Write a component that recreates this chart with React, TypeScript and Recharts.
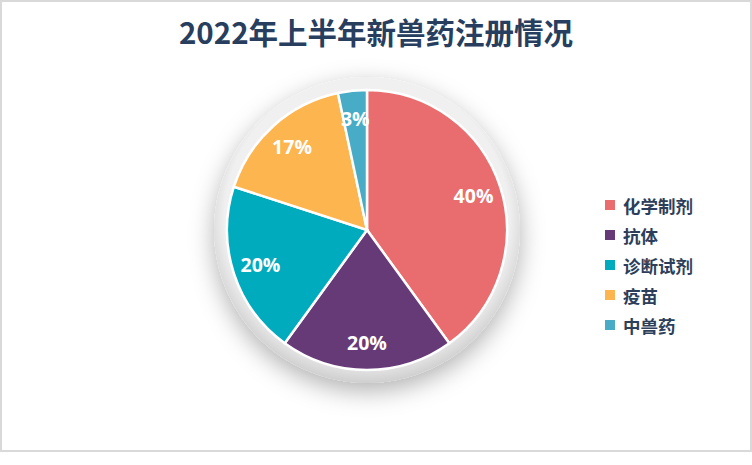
import { PieChart, Pie, Cell, Legend } from 'recharts';

const categories = ['化学制剂', '抗体', '诊断试剂', '疫苗', '中兽药'];
const counts = [12, 6, 6, 5, 1];
const colors = ['#E96C6E', '#663A77', '#00ABBD', '#FDB54F', '#49ACC6'];

const data = categories.map((name, i) => ({ name, value: counts[i] }));
const total = counts.reduce((a, b) => a + b, 0);

const RAD = Math.PI / 180;

const renderLabel = (p: any) => {
    const r = 112;
    const x = p.cx + r * Math.cos(-p.midAngle * RAD);
    const y = p.cy + r * Math.sin(-p.midAngle * RAD);
    return (
        <text x={x} y={y} fill='#fff' textAnchor='middle' dominantBaseline='central'
            fontSize={19.5} fontWeight='bold' fontFamily='"Open Sans", "Noto Sans CJK SC"'>
            {Math.round((p.value / total) * 100)}%
        </text>
    );
};

const renderLegend = (props: any) => {
    const items = categories
        .map((c) => props.payload.find((e: any) => e.value === c))
        .filter(Boolean);
    return (
        <ul style={{ listStyle: 'none', margin: 0, padding: 0 }}>
            {items.map((e: any) => (
                <li key={e.value} style={{ display: 'flex', alignItems: 'center', height: 30 }}>
                    <span style={{ width: 10, height: 10, background: e.color, marginRight: 8, display: 'inline-block' }} />
                    <span style={{ color: '#2C3E5A', fontSize: 17.5, fontWeight: 'bold' }}>{e.value}</span>
                </li>
            ))}
        </ul>
    );
};

export default function App() {
    return (
        <div style={{
            position: 'absolute', left: 0, top: 0, width: 752, height: 452, boxSizing: 'border-box',
            border: '2px solid #d9d9d9', background: '#fff', fontFamily: '"Noto Sans CJK SC", "Noto Sans", sans-serif'
        }}>
            <div style={{
                position: 'absolute', left: 0, width: 748, top: 8, textAlign: 'center',
                fontSize: 29.5, fontWeight: 'bold', color: '#283E5E'
            }}>2022年上半年新兽药注册情况</div>
            <PieChart width={748} height={448}>
                <defs>
                    <filter id='ringShadow' x='-30%' y='-30%' width='160%' height='160%'>
                        <feDropShadow dx='0' dy='8' stdDeviation='12' floodColor='#000' floodOpacity='0.3' />
                    </filter>
                    <radialGradient id='ringFill' cx='50%' cy='46%' r='54%'>
                        <stop offset='86%' stopColor='#f0f0f0' />
                        <stop offset='100%' stopColor='#cfcfcf' />
                    </radialGradient>
                </defs>
                <Pie data={[{ name: 'bg', value: 1 }]} dataKey='value' cx={360} cy={223}
                    outerRadius={153} stroke='none' fill='url(#ringFill)' legendType='none'
                    filter='url(#ringShadow)' isAnimationActive={false} />
                <Pie data={data} dataKey='value' nameKey='name' cx={360} cy={223}
                    outerRadius={140} startAngle={90} endAngle={-270}
                    stroke='#fff' strokeWidth={2.5} label={renderLabel} labelLine={false}
                    isAnimationActive={false}>
                    {data.map((d, i) => <Cell key={d.name} fill={colors[i]} />)}
                </Pie>
                <Legend layout='vertical' align='right' verticalAlign='middle' content={renderLegend}
                    wrapperStyle={{ left: 603, top: 188, width: 130 }} />
            </PieChart>
        </div>
    );
}
